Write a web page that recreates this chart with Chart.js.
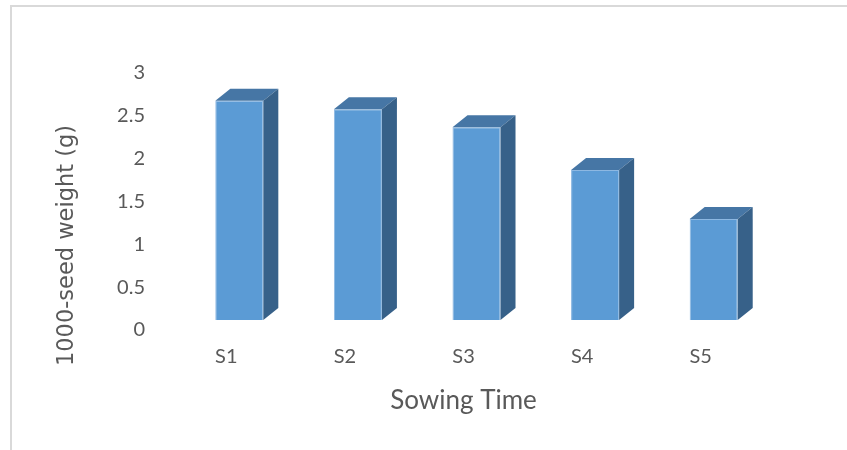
<!DOCTYPE html>
<html>
<head>
<meta charset="utf-8">
<script src="https://cdn.jsdelivr.net/npm/chart.js@4"></script>
<style>
  html, body { margin: 0; padding: 0; background: #ffffff; }
  #wrap { position: relative; width: 847px; height: 450px; }
  #frame { position: absolute; left: 10px; top: 5px; right: 0; bottom: 0; border-top: 2px solid #d9d9d9; border-left: 2px solid #d9d9d9; }
  canvas { position: absolute; left: 0; top: 0; }
</style>
</head>
<body>
<div id="wrap">
  <div id="frame"></div>
  <canvas id="c" width="847" height="450"></canvas>
</div>
<script>
const categories = ['S1', 'S2', 'S3', 'S4', 'S5'];
const seedWeight = [2.56, 2.46, 2.25, 1.75, 1.18];
const yTicks = [0, 0.5, 1, 1.5, 2, 2.5, 3];
const xTitle = 'Sowing Time';
const yTitle = '1000-seed weight (g)';

const FRONT = '#5b9bd5';
const TOP = '#4676a5';
const SIDE = '#376189';
const TEXT = '#595959';
const DX = 15, DY = 12;

const box3d = {
  id: 'box3d',
  afterDatasetsDraw(chart) {
    const ctx = chart.ctx;
    const meta = chart.getDatasetMeta(0);
    ctx.save();
    meta.data.forEach(bar => {
      const p = bar.getProps(['x', 'y', 'base', 'width'], true);
      const l = p.x - p.width / 2, r = p.x + p.width / 2, t = p.y, b = p.base;
      ctx.fillStyle = TOP;
      ctx.beginPath();
      ctx.moveTo(l, t); ctx.lineTo(l + DX, t - DY); ctx.lineTo(r + DX, t - DY); ctx.lineTo(r, t);
      ctx.closePath(); ctx.fill();
      ctx.fillStyle = SIDE;
      ctx.beginPath();
      ctx.moveTo(r, t); ctx.lineTo(r + DX, t - DY); ctx.lineTo(r + DX, b - DY); ctx.lineTo(r, b);
      ctx.closePath(); ctx.fill();
    });
    ctx.restore();
  },
  afterDraw(chart) {
    const ctx = chart.ctx;
    const xs = chart.scales.x, ys = chart.scales.y;
    ctx.save();
    ctx.fillStyle = TEXT;
    ctx.textAlign = 'center';
    ctx.textBaseline = 'middle';
    ctx.font = '26px Lato';
    ctx.fillText(xTitle, (xs.left + xs.right) / 2 - DX + 2, 401);
    ctx.translate(67, (ys.top + ys.bottom) / 2 + 54);
    ctx.rotate(-Math.PI / 2);
    ctx.font = '22.5px "DejaVu Sans"';
    ctx.fillText(yTitle, 0, 0);
    ctx.restore();
  }
};

new Chart(document.getElementById('c'), {
  type: 'bar',
  data: {
    labels: categories,
    datasets: [{
      data: seedWeight,
      backgroundColor: FRONT,
      borderColor: '#8db8e2',
      borderWidth: 1,
      barPercentage: 0.405,
      categoryPercentage: 1
    }]
  },
  options: {
    responsive: false,
    animation: false,
    devicePixelRatio: 1,
    layout: { padding: { top: 63, right: 74, left: 0, bottom: 0 } },
    plugins: { legend: { display: false }, tooltip: { enabled: false } },
    scales: {
      x: {
        grid: { display: false, drawTicks: false },
        border: { display: false },
        ticks: { color: TEXT, font: { family: 'Lato', size: 20 }, padding: 25, labelOffset: -13 },
        afterFit(s) { s.height = 130; }
      },
      y: {
        min: 0, max: 3,
        afterBuildTicks(s) { s.ticks = yTicks.map(v => ({ value: v })); },
        grid: { display: false, drawTicks: false },
        border: { display: false },
        ticks: { color: TEXT, font: { family: 'Lato', size: 20 }, padding: 35, labelOffset: 10, callback: v => String(v) },
        afterFit(s) { s.width = 180; }
      }
    }
  },
  plugins: [box3d]
});
</script>
</body>
</html>
